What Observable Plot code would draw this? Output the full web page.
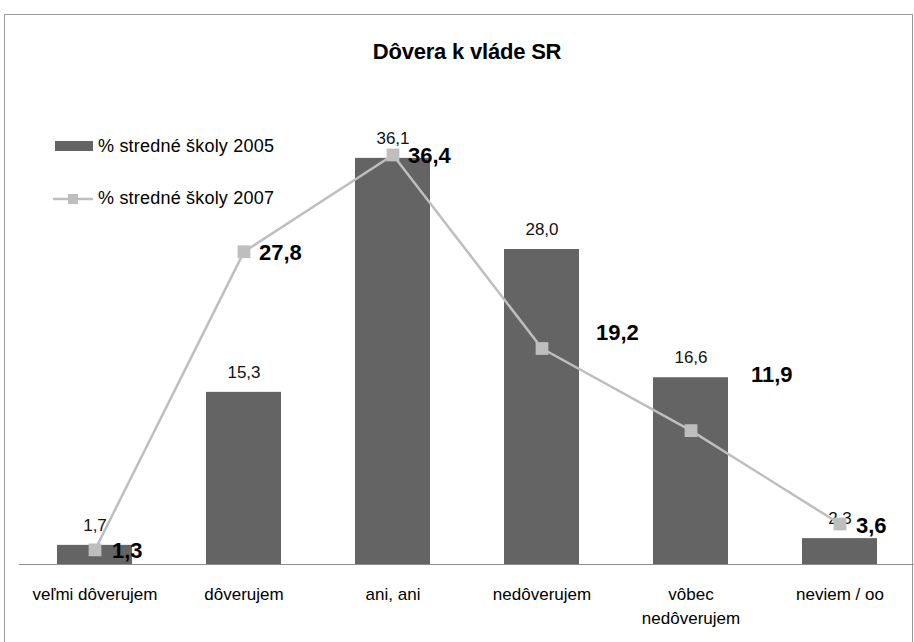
<!DOCTYPE html>
<html>
<head>
<meta charset="utf-8">
<script src="https://cdn.jsdelivr.net/npm/d3@7"></script>
<script src="https://cdn.jsdelivr.net/npm/@observablehq/plot@0.6"></script>
<style>
  html, body { margin: 0; padding: 0; background: #fff; }
  #wrap { position: relative; width: 914px; height: 642px; overflow: hidden; font-family: "Liberation Sans", Arial, sans-serif; color: #000; }
  #border { position: absolute; left: 4px; top: 14px; width: 907px; height: 700px; border: 1px solid #9a9a9a; pointer-events: none; z-index: 5; }
  #title { position: absolute; left: 0; width: 934px; top: 39px; text-align: center; font-weight: bold; font-size: 22px; letter-spacing: -0.2px; z-index: 3; }
  .leg { position: absolute; left: 52px; height: 20px; display: flex; align-items: center; font-size: 18px; z-index: 3; letter-spacing: 0.2px; }
  .leg svg { margin-right: 2px; }
  #chart { position: absolute; left: 0; top: 0; }
</style>
</head>
<body>
<div id="wrap">
  <div id="border"></div>
  <div id="title">Dôvera k vláde SR</div>
  <div id="legend"></div>
  <div id="chart"></div>
</div>
<script>
const categories = ["veľmi dôverujem", "dôverujem", "ani, ani", "nedôverujem", "vôbec nedôverujem", "neviem / oo"];
const series2005 = [1.7, 15.3, 36.1, 28.0, 16.6, 2.3];
const series2007 = [1.3, 27.8, 36.4, 19.2, 11.9, 3.6];
const seriesNames = ["% stredné školy 2005", "% stredné školy 2007"];

const barColor = "#646464";
const lineColor = "#bebebe";
const fmt = v => v.toFixed(1).replace(".", ",");

const data = categories.map((c, i) => ({cat: c, v2005: series2005[i], v2007: series2007[i], i}));

// label offsets for 2007 values (styling, as placed in the original)
const lineLabelOffsets = [[17, 1], [15, 1], [15, 1], [54, -16], [60, -56], [16, 2]];

const lineLabelMarks = data.map((d, i) => Plot.text([d], {
  x: "cat", y: "v2007", text: d => fmt(d.v2007),
  dx: lineLabelOffsets[i][0], dy: lineLabelOffsets[i][1],
  textAnchor: "start", fontWeight: "bold", fontSize: 22, fill: "#000"
}));

const chart = Plot.plot({
  width: 914,
  height: 642,
  marginLeft: 19,
  marginRight: 0,
  marginTop: 114,
  marginBottom: 78,
  style: {background: "transparent", fontFamily: "Liberation Sans, Arial, sans-serif", overflow: "visible"},
  x: {domain: categories, paddingInner: 0.5, paddingOuter: 0.25, label: null},
  y: {domain: [0, 40], axis: null},
  marks: [
    Plot.barY(data, {x: "cat", y: "v2005", fill: barColor}),
    Plot.ruleY([0], {stroke: "#8c8c8c", strokeWidth: 1.2}),
    Plot.axisX({
      label: null,
      tickSize: 0, tickPadding: 19, fontSize: 17, lineHeight: 1.4, fill: "#000",
      tickFormat: d => d === "vôbec nedôverujem" ? "vôbec\nnedôverujem" : d
    }),
    Plot.text(data, {x: "cat", y: "v2005", text: d => fmt(d.v2005), dy: -20, fontSize: 17, fill: "#111"}),
    Plot.line(data, {x: "cat", y: "v2007", stroke: lineColor, strokeWidth: 2.5}),
    Plot.dot(data, {x: "cat", y: "v2007", symbol: "square", r: 7.2, fill: lineColor, stroke: "none"}),
    ...lineLabelMarks
  ]
});
document.getElementById("chart").appendChild(chart);

const legend = document.getElementById("legend");
legend.innerHTML = `
  <div class="leg" style="top:136px">
    <svg width="44" height="20"><rect x="3" y="5" width="38" height="10" fill="${barColor}"></rect></svg>
    <span>${seriesNames[0]}</span>
  </div>
  <div class="leg" style="top:188px">
    <svg width="44" height="20"><line x1="1" y1="11" x2="41" y2="11" stroke="${lineColor}" stroke-width="2.5"></line><rect x="16" y="6" width="10" height="10" fill="${lineColor}"></rect></svg>
    <span>${seriesNames[1]}</span>
  </div>`;
</script>
</body>
</html>
